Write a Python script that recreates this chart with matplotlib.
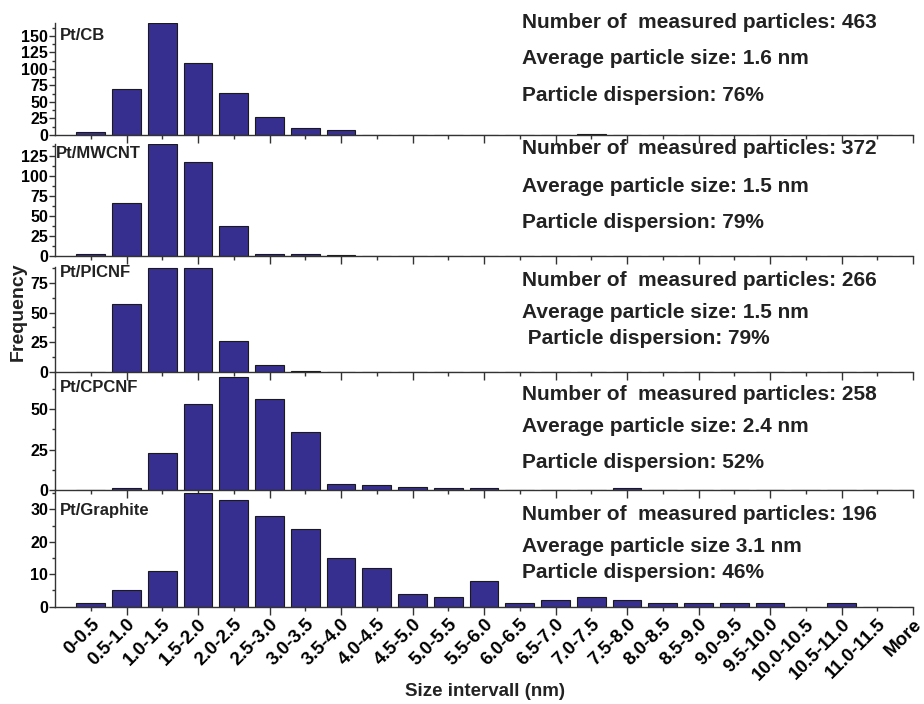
import matplotlib
matplotlib.use('Agg')
import matplotlib.pyplot as plt
from matplotlib.ticker import MultipleLocator

plt.rcParams['font.family'] = ['Liberation Sans', 'DejaVu Sans']
plt.rcParams['font.weight'] = 'bold'

size_bins = ['0-0.5', '0.5-1.0', '1.0-1.5', '1.5-2.0', '2.0-2.5', '2.5-3.0', '3.0-3.5',
             '3.5-4.0', '4.0-4.5', '4.5-5.0', '5.0-5.5', '5.5-6.0', '6.0-6.5', '6.5-7.0',
             '7.0-7.5', '7.5-8.0', '8.0-8.5', '8.5-9.0', '9.0-9.5', '9.5-10.0',
             '10.0-10.5', '10.5-11.0', '11.0-11.5', 'More']

samples = ['Pt/CB', 'Pt/MWCNT', 'Pt/PICNF', 'Pt/CPCNF', 'Pt/Graphite']

freq_cb = [4, 70, 169, 109, 63, 27, 10, 7, 0, 0, 0, 0, 0, 0, 1, 0, 0, 0, 0, 0, 0, 0, 0, 0]
freq_mwcnt = [3, 66, 140, 117, 37, 2, 3, 1, 0, 0, 0, 0, 0, 0, 0, 0, 0, 0, 0, 0, 0, 0, 0, 0]
freq_picnf = [0, 57, 88, 88, 26, 6, 1, 0, 0, 0, 0, 0, 0, 0, 0, 0, 0, 0, 0, 0, 0, 0, 0, 0]
freq_cpcnf = [0, 1, 23, 53, 70, 56, 36, 4, 3, 2, 1, 1, 0, 0, 0, 1, 0, 0, 0, 0, 0, 0, 0, 0]
freq_graphite = [1, 5, 11, 35, 33, 28, 24, 15, 12, 4, 3, 8, 1, 2, 3, 2, 1, 1, 1, 1, 0, 1, 0, 0]

y_max = [170, 140, 89, 73, 36]
y_step = [25, 25, 25, 25, 10]

info = [
    ['Number of  measured particles: 463', 'Average particle size: 1.6 nm', 'Particle dispersion: 76%'],
    ['Number of  measured particles: 372', 'Average particle size: 1.5 nm', 'Particle dispersion: 79%'],
    ['Number of  measured particles: 266', 'Average particle size: 1.5 nm', ' Particle dispersion: 79%'],
    ['Number of  measured particles: 258', 'Average particle size: 2.4 nm', 'Particle dispersion: 52%'],
    ['Number of  measured particles: 196', 'Average particle size 3.1 nm', 'Particle dispersion: 46%'],
]

all_freq = [freq_cb, freq_mwcnt, freq_picnf, freq_cpcnf, freq_graphite]

W, H = 924, 704
fig = plt.figure(figsize=(W / 100, H / 100), dpi=100)

# panel extents in pixels (top, bottom)
panel_px = [(22.7, 135), (144, 256), (266.7, 371.7), (372, 490), (490, 606.7)]
label_px = [(60, 35), (56, 154), (60, 273), (60, 388), (60, 511)]
info_y = [(22.7, 58, 95.7), (148, 186, 222), (280, 313, 338), (395, 427, 462), (515, 547, 573)]

bar_color = '#372f8f'
axis_color = '#333333'
x = list(range(len(size_bins)))

for i, freq in enumerate(all_freq):
    top, bot = panel_px[i]
    ax = fig.add_axes([55 / W, 1 - bot / H, (913 - 55) / W, (bot - top) / H])
    ax.bar(x, freq, width=0.81, color=bar_color, edgecolor='#1a1a1a', linewidth=0.8)
    ax.set_xlim(-1, 23)
    ax.set_ylim(0, y_max[i])
    ax.patch.set_alpha(0)
    for s in ['top', 'right']:
        ax.spines[s].set_visible(False)
    for s in ['left', 'bottom']:
        ax.spines[s].set_color(axis_color)
        ax.spines[s].set_linewidth(1.0)
    ax.yaxis.set_major_locator(MultipleLocator(y_step[i]))
    ax.yaxis.set_minor_locator(MultipleLocator(y_step[i] / 2))
    ax.tick_params(axis='y', which='major', length=4, width=1, color=axis_color,
                   labelsize=11.5, pad=1)
    ax.tick_params(axis='y', which='minor', length=2.5, width=1, color=axis_color)
    ax.set_xticks(x)
    ax.tick_params(axis='x', which='major', width=1, color=axis_color, pad=3)
    for j, t in enumerate(ax.xaxis.get_major_ticks()):
        t.tick1line.set_markersize(6 if j % 2 else 3)
    if i < 4:
        ax.set_xticklabels([])
    else:
        ax.set_xticklabels(size_bins, rotation=45, ha='right', va='top',
                           rotation_mode='anchor', fontsize=13.5, fontweight='bold')
    for lab in ax.get_yticklabels():
        lab.set_fontweight('bold')

    lx, ly = label_px[i]
    fig.text(lx / W, 1 - ly / H, samples[i], fontsize=12, fontweight='bold',
             ha='left', va='center', color='#222222')
    for line, yy in zip(info[i], info_y[i]):
        fig.text(522 / W, 1 - yy / H, line, fontsize=15, fontweight='bold',
                 ha='left', va='center', color='#222222')

fig.text(18 / W, 1 - 312 / H, 'Frequency', rotation=90, fontsize=14,
         fontweight='bold', ha='center', va='center', color='#222222')
fig.text(485 / W, 1 - 691 / H, 'Size intervall (nm)', fontsize=13.5,
         fontweight='bold', ha='center', va='center', color='#222222')

fig.savefig('out.png', dpi=100)
